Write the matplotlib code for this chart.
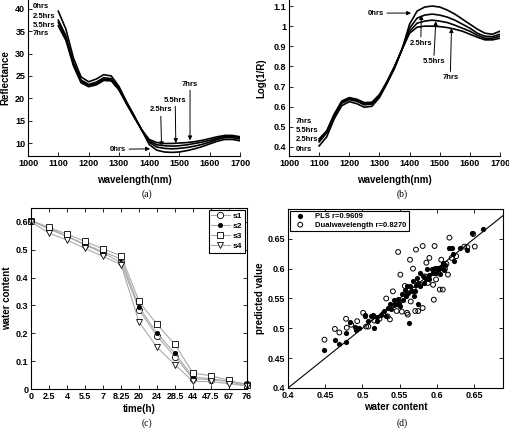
import matplotlib
matplotlib.use('Agg')
import matplotlib.pyplot as plt

plt.rcParams['font.family'] = ['Liberation Sans', 'DejaVu Sans']
plt.rcParams['font.weight'] = 'bold'
plt.rcParams['axes.labelweight'] = 'bold'
plt.rcParams['axes.linewidth'] = 0.8
plt.rcParams['xtick.direction'] = 'in'
plt.rcParams['ytick.direction'] = 'in'
plt.rcParams['xtick.major.size'] = 3
plt.rcParams['ytick.major.size'] = 3
plt.rcParams['xtick.major.width'] = 0.6
plt.rcParams['ytick.major.width'] = 0.6

# ---------------- data ----------------
wavelength = [1100, 1125, 1150, 1175, 1200, 1225, 1250, 1275, 1300, 1325, 1350, 1375,
              1400, 1425, 1450, 1475, 1500, 1525, 1550, 1575, 1600, 1625, 1650, 1675, 1700]

refl_0h = [39.5, 35.5, 29.0, 24.8, 23.7, 24.3, 25.3, 25.0, 22.7, 19.3, 16.2, 13.0,
           9.7, 8.4, 8.0, 7.9, 8.0, 8.3, 8.7, 9.2, 9.8, 10.4, 10.8, 10.8, 10.5]
refl_25h = [37.5, 34.0, 28.0, 24.1, 23.1, 23.6, 24.6, 24.4, 22.3, 19.0, 16.0, 13.0,
            10.2, 9.1, 8.8, 8.7, 8.8, 9.0, 9.3, 9.7, 10.2, 10.8, 11.2, 11.2, 10.9]
refl_55h = [37.0, 33.5, 27.6, 23.8, 22.9, 23.3, 24.3, 24.1, 22.1, 18.9, 15.9, 13.0,
            10.5, 9.6, 9.4, 9.3, 9.4, 9.6, 9.9, 10.2, 10.6, 11.1, 11.5, 11.5, 11.2]
refl_7h = [36.2, 33.0, 27.3, 23.5, 22.6, 23.0, 24.0, 23.9, 21.9, 18.8, 15.9, 13.0,
           10.8, 10.1, 9.9, 9.9, 10.0, 10.1, 10.3, 10.6, 11.0, 11.4, 11.7, 11.7, 11.4]

logr_0h = [0.405, 0.45, 0.54, 0.605, 0.625, 0.615, 0.597, 0.602, 0.645, 0.715, 0.79, 0.885,
           1.01, 1.075, 1.095, 1.10, 1.095, 1.08, 1.06, 1.035, 1.01, 0.985, 0.965, 0.96, 0.975]
logr_25h = [0.425, 0.47, 0.553, 0.617, 0.635, 0.627, 0.609, 0.613, 0.652, 0.72, 0.795, 0.885,
            0.99, 1.04, 1.055, 1.06, 1.055, 1.045, 1.03, 1.01, 0.99, 0.965, 0.95, 0.948, 0.96]
logr_55h = [0.432, 0.475, 0.558, 0.623, 0.64, 0.632, 0.614, 0.618, 0.655, 0.722, 0.798, 0.885,
            0.975, 1.015, 1.025, 1.03, 1.025, 1.018, 1.005, 0.99, 0.975, 0.955, 0.94, 0.94, 0.95]
logr_7h = [0.44, 0.48, 0.563, 0.628, 0.645, 0.637, 0.62, 0.622, 0.66, 0.725, 0.8, 0.885,
           0.965, 0.995, 1.0, 1.0, 0.998, 0.993, 0.985, 0.975, 0.96, 0.945, 0.932, 0.932, 0.94]

time_labels = ['0', '2.5', '4', '5.5', '7', '8.25', '20', '24', '28.5', '44', '47.5', '67', '76']
water_s1 = [0.605, 0.578, 0.548, 0.517, 0.488, 0.455, 0.285, 0.19, 0.116, 0.037, 0.034, 0.027, 0.018]
water_s2 = [0.605, 0.574, 0.548, 0.52, 0.493, 0.467, 0.295, 0.20, 0.128, 0.043, 0.037, 0.027, 0.010]
water_s3 = [0.605, 0.58, 0.556, 0.53, 0.503, 0.479, 0.315, 0.232, 0.16, 0.057, 0.048, 0.031, 0.015]
water_s4 = [0.600, 0.56, 0.535, 0.505, 0.476, 0.447, 0.241, 0.15, 0.087, 0.027, 0.027, 0.019, 0.011]

pls_actual = [0.449, 0.463, 0.469, 0.478, 0.478, 0.484, 0.49, 0.491, 0.496, 0.503, 0.504, 0.508,
              0.511, 0.514, 0.516, 0.519, 0.52, 0.525, 0.529, 0.532, 0.534, 0.537, 0.539, 0.542,
              0.543, 0.546, 0.548, 0.549, 0.551, 0.553, 0.555, 0.557, 0.559, 0.56, 0.561, 0.562,
              0.564, 0.566, 0.568, 0.569, 0.571, 0.572, 0.574, 0.575, 0.575, 0.577, 0.578, 0.581,
              0.583, 0.585, 0.587, 0.589, 0.59, 0.593, 0.595, 0.597, 0.599, 0.601, 0.603, 0.604,
              0.606, 0.608, 0.61, 0.611, 0.617, 0.620, 0.622, 0.623, 0.631, 0.64, 0.647, 0.662]
pls_pred = [0.463, 0.480, 0.473, 0.477, 0.492, 0.511, 0.502, 0.498, 0.501, 0.523, 0.520, 0.512,
            0.520, 0.522, 0.501, 0.519, 0.513, 0.523, 0.529, 0.52, 0.534, 0.54, 0.533, 0.539,
            0.548, 0.541, 0.549, 0.543, 0.537, 0.558, 0.548, 0.565, 0.554, 0.571, 0.559, 0.509,
            0.571, 0.562, 0.579, 0.554, 0.563, 0.573, 0.585, 0.576, 0.540, 0.571, 0.593, 0.587,
            0.576, 0.582, 0.599, 0.589, 0.582, 0.599, 0.593, 0.601, 0.593, 0.601, 0.599, 0.591,
            0.602, 0.61, 0.597, 0.606, 0.635, 0.635, 0.624, 0.613, 0.635, 0.632, 0.66, 0.666]

dual_actual = [0.449, 0.463, 0.469, 0.478, 0.479, 0.485, 0.493, 0.501, 0.505, 0.508, 0.516, 0.523,
               0.528, 0.532, 0.534, 0.537, 0.541, 0.546, 0.548, 0.551, 0.553, 0.557, 0.56, 0.561,
               0.564, 0.565, 0.568, 0.569, 0.571, 0.572, 0.575, 0.578, 0.581, 0.581, 0.584, 0.586,
               0.588, 0.59, 0.595, 0.596, 0.597, 0.599, 0.602, 0.604, 0.606, 0.608, 0.611, 0.613,
               0.615, 0.617, 0.62, 0.626, 0.637, 0.649, 0.651, 0.641]
dual_pred = [0.481, 0.499, 0.493, 0.516, 0.501, 0.506, 0.512, 0.526, 0.503, 0.503, 0.513, 0.516,
             0.524, 0.55, 0.52, 0.515, 0.562, 0.529, 0.628, 0.59, 0.528, 0.571, 0.526, 0.523,
             0.615, 0.545, 0.6, 0.565, 0.529, 0.632, 0.529, 0.573, 0.534, 0.638, 0.587, 0.61,
             0.576, 0.618, 0.573, 0.548, 0.638, 0.582, 0.599, 0.565, 0.615, 0.565, 0.6, 0.608,
             0.59, 0.652, 0.618, 0.621, 0.637, 0.658, 0.637, 0.636]

# ---------------- figure ----------------
fig = plt.figure(figsize=(5.1, 4.29), dpi=100)

TICK_FS = 6.5
LABEL_FS = 7
ANN_FS = 5.5
arrow_kw = dict(arrowstyle='-|>', color='k', lw=0.7, mutation_scale=6, shrinkA=0, shrinkB=0)


def fmt(v):
    s = ('%.2f' % v).rstrip('0').rstrip('.')
    return s


# ---- (a) ----
ax = fig.add_axes([0.0549, 0.6364, 0.4157, 0.3636])
for series in (refl_0h, refl_25h, refl_55h, refl_7h):
    ax.plot(wavelength, series, color='k', lw=1.2)
ax.set_xlim(1000, 1700)
ax.set_ylim(7.1, 42)
ax.set_xticks(range(1000, 1701, 100))
ax.set_yticks(range(10, 41, 5))
ax.tick_params(labelsize=TICK_FS, pad=2)
ax.spines['top'].set_visible(False)
ax.spines['right'].set_visible(False)
ax.set_xlabel('wavelength(nm)', fontsize=LABEL_FS)
ax.set_ylabel('Reflectance', fontsize=LABEL_FS)
ax.xaxis.set_label_coords(0.5, -0.125)
ax.yaxis.set_label_coords(-0.085, 0.5)
for lab, yv in (('0hrs', 40.6), ('2.5hrs', 38.4), ('5.5hrs', 36.4), ('7hrs', 34.4)):
    ax.text(1016, yv, lab, fontsize=ANN_FS, ha='left', va='center')
ax.annotate('0hrs', xy=(1403, 8.7), xytext=(1271, 8.6), fontsize=ANN_FS,
            ha='left', va='center', arrowprops=arrow_kw)
ax.annotate('2.5hrs', xy=(1441, 9.3), xytext=(1438, 17.4), fontsize=ANN_FS,
            ha='center', va='center', arrowprops=arrow_kw)
ax.annotate('5.5hrs', xy=(1488, 10.0), xytext=(1486, 19.6), fontsize=ANN_FS,
            ha='center', va='center', arrowprops=arrow_kw)
ax.annotate('7hrs', xy=(1535, 10.6), xytext=(1535, 23.2), fontsize=ANN_FS,
            ha='center', va='center', arrowprops=arrow_kw)

# ---- (b) ----
ax = fig.add_axes([0.5667, 0.6364, 0.4137, 0.3636])
for series in (logr_0h, logr_25h, logr_55h, logr_7h):
    ax.plot(wavelength, series, color='k', lw=1.2)
ax.set_xlim(1000, 1700)
ax.set_ylim(0.355, 1.13)
ax.set_xticks(range(1000, 1701, 100))
bt = [0.4, 0.5, 0.6, 0.7, 0.8, 0.9, 1.0, 1.1]
ax.set_yticks(bt)
ax.set_yticklabels([fmt(v) for v in bt])
ax.tick_params(labelsize=TICK_FS, pad=2)
ax.spines['top'].set_visible(False)
ax.spines['right'].set_visible(False)
ax.set_xlabel('wavelength(nm)', fontsize=LABEL_FS)
ax.set_ylabel('Log(1/R)', fontsize=LABEL_FS)
ax.xaxis.set_label_coords(0.5, -0.125)
ax.yaxis.set_label_coords(-0.105, 0.5)
for lab, yv in (('7hrs', 0.526), ('5.5hrs', 0.481), ('2.5hrs', 0.435), ('0hrs', 0.385)):
    ax.text(1022, yv, lab, fontsize=ANN_FS, ha='left', va='center')
ax.annotate('0hrs', xy=(1405, 1.065), xytext=(1262, 1.065), fontsize=ANN_FS,
            ha='left', va='center', arrowprops=arrow_kw)
ax.annotate('2.5hrs', xy=(1439, 1.055), xytext=(1437, 0.916), fontsize=ANN_FS,
            ha='center', va='center', arrowprops=arrow_kw)
ax.annotate('5.5hrs', xy=(1487, 1.025), xytext=(1480, 0.824), fontsize=ANN_FS,
            ha='center', va='center', arrowprops=arrow_kw)
ax.annotate('7hrs', xy=(1539, 0.99), xytext=(1535, 0.744), fontsize=ANN_FS,
            ha='center', va='center', arrowprops=arrow_kw)

# ---- (c) ----
ax = fig.add_axes([0.0608, 0.0932, 0.4235, 0.422])
pos = list(range(1, len(time_labels) + 1))
line_kw = dict(color='#a9a9a9', lw=0.8, mec='k', mew=0.6, clip_on=False)
ax.plot(pos, water_s1, marker='o', mfc='white', ms=4.5, label='s1', **line_kw)
ax.plot(pos, water_s2, marker='o', mfc='k', ms=3.0, label='s2', **line_kw)
ax.plot(pos, water_s3, marker='s', mfc='white', ms=4.0, label='s3', **line_kw)
ax.plot(pos, water_s4, marker='v', mfc='white', ms=4.5, label='s4', **line_kw)
ax.set_xlim(1, len(time_labels))
ax.set_ylim(0, 0.65)
ax.set_xticks(pos)
ax.set_xticklabels(time_labels)
ct = [0, 0.1, 0.2, 0.3, 0.4, 0.5, 0.6]
ax.set_yticks(ct)
ax.set_yticklabels([fmt(v) for v in ct])
ax.tick_params(labelsize=TICK_FS, pad=2, top=True, right=True)
ax.set_xlabel('time(h)', fontsize=LABEL_FS)
ax.set_ylabel('water content', fontsize=LABEL_FS)
ax.xaxis.set_label_coords(0.5, -0.08)
ax.yaxis.set_label_coords(-0.088, 0.5)
leg = ax.legend(loc='upper right', fontsize=6, fancybox=False, framealpha=1,
                edgecolor='k', handlelength=2.2, borderpad=0.3, labelspacing=0.25,
                handletextpad=0.4, borderaxespad=0.25)
leg.get_frame().set_linewidth(0.8)

# ---- (d) ----
ax = fig.add_axes([0.5647, 0.0956, 0.4216, 0.4172])
ax.plot([0.4, 0.7], [0.4, 0.7], color='k', lw=0.8)
ax.scatter(pls_actual, pls_pred, s=14, c='k', marker='o', linewidths=0,
           label='PLS r=0.9609', zorder=3)
ax.scatter(dual_actual, dual_pred, s=12, facecolors='none', edgecolors='k', linewidths=0.7,
           marker='o', label='Dualwavelength r=0.8270', zorder=3)
ax.set_xlim(0.4, 0.689)
ax.set_ylim(0.4, 0.7)
dt = [0.4, 0.45, 0.5, 0.55, 0.6, 0.65]
ax.set_xticks(dt)
ax.set_xticklabels([fmt(v) for v in dt])
ax.set_yticks(dt)
ax.set_yticklabels([fmt(v) for v in dt])
ax.tick_params(labelsize=TICK_FS, pad=2, top=True, right=True)
ax.set_xlabel('water content', fontsize=LABEL_FS)
ax.set_ylabel('predicted value', fontsize=LABEL_FS)
ax.xaxis.set_label_coords(0.5, -0.08)
ax.yaxis.set_label_coords(-0.107, 0.5)
leg = ax.legend(loc='upper left', fontsize=5.5, fancybox=False, framealpha=1,
                edgecolor='k', handlelength=2.2, borderpad=0.25, labelspacing=0.15,
                handletextpad=0.9, borderaxespad=0.25)
leg.get_frame().set_linewidth(0.8)

# ---- captions ----
cap_kw = dict(family=['Liberation Serif', 'DejaVu Serif'], weight='normal', fontsize=7,
              ha='center', va='center')
fig.text(147 / 510, 1 - 194 / 429, '(a)', **cap_kw)
fig.text(402 / 510, 1 - 194 / 429, '(b)', **cap_kw)
fig.text(147 / 510, 1 - 423 / 429, '(c)', **cap_kw)
fig.text(402 / 510, 1 - 423 / 429, '(d)', **cap_kw)

fig.savefig('out.png', dpi=100)
